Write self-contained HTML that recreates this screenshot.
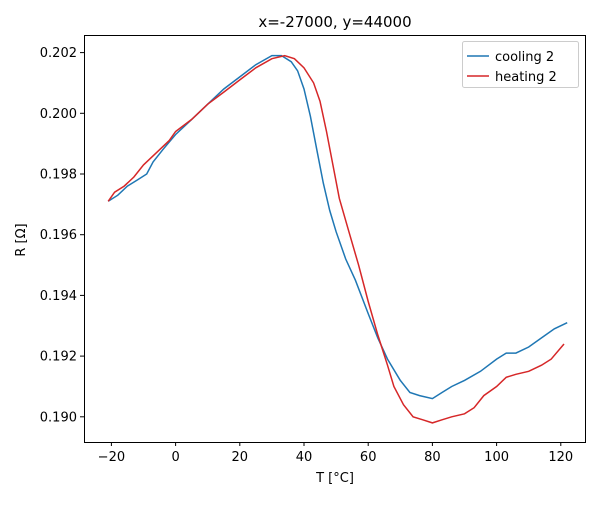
<!DOCTYPE html>
<html><head><meta charset="utf-8"><style>
body{margin:0;background:#fff}
svg text{font-family:"DejaVu Sans","Liberation Sans",sans-serif;fill:#000}
</style></head><body>
<svg id="s" width="600" height="500" xmlns="http://www.w3.org/2000/svg">
<rect x="84.5" y="35.5" width="501" height="407" fill="none" stroke="#000" stroke-width="1"/>
<g id="ticks" font-size="13"></g>
<text x="335" y="27" font-size="15" text-anchor="middle">x=-27000, y=44000</text>
<text x="335" y="482" font-size="13" text-anchor="middle">T [°C]</text>
<text transform="translate(25,240) rotate(-90)" font-size="13" text-anchor="middle">R [Ω]</text>
<path id="c" fill="none" stroke="#1f77b4" stroke-width="1.5"/>
<path id="h" fill="none" stroke="#d62728" stroke-width="1.5"/>
<rect x="462.5" y="41.5" width="116" height="46" rx="2" fill="#fff" fill-opacity="0.8" stroke="#ccc"/>
<line x1="467" y1="56" x2="489" y2="56" stroke="#1f77b4" stroke-width="1.5"/>
<line x1="467" y1="76" x2="489" y2="76" stroke="#d62728" stroke-width="1.5"/>
<text x="495" y="61" font-size="13">cooling 2</text>
<text x="495" y="81" font-size="13">heating 2</text>
</svg>
<script>
var X=function(t){return 175.6+t*3.21},Y=function(r){return 113.3+(0.2-r)/0.002*60.7};
var g=document.getElementById('ticks'),h='';
for(var t=-20;t<=120;t+=20){var x=X(t);h+='<line x1="'+x+'" y1="442" x2="'+x+'" y2="446" stroke="#000"/><text x="'+x+'" y="461" text-anchor="middle">'+(t<0?'−'+(-t):t)+'</text>';}
for(var i=0;i<=6;i++){var r=0.19+i*0.002,y=Y(r);h+='<line x1="80" y1="'+y+'" x2="84" y2="'+y+'" stroke="#000"/><text x="77" y="'+(y+4.5)+'" text-anchor="end">'+r.toFixed(3)+'</text>';}
g.innerHTML=h;
var C=[[-21,.1971],[-18,.1973],[-15,.1976],[-12,.1978],[-9,.1980],[-7,.1984],[-4,.1988],[0,.1993],[5,.1998],[10,.2003],[15,.2008],[20,.2012],[25,.2016],[30,.2019],[33,.2019],[36,.2017],[38,.2014],[40,.2008],[42,.1999],[44,.1988],[46,.1977],[48,.1968],[50,.1961],[53,.1952],[56,.1945],[60,.1934],[63,.1926],[66,.1919],[70,.1912],[73,.1908],[76,.1907],[80,.1906],[83,.1908],[86,.1910],[90,.1912],[95,.1915],[100,.1919],[103,.1921],[106,.1921],[110,.1923],[114,.1926],[118,.1929],[122,.1931]];
var H=[[-21,.1971],[-19,.1974],[-16,.1976],[-13,.1979],[-10,.1983],[-6,.1987],[-2,.1991],[0,.1994],[5,.1998],[10,.2003],[15,.2007],[20,.2011],[25,.2015],[30,.2018],[34,.2019],[37,.2018],[40,.2015],[43,.2010],[45,.2004],[47,.1994],[49,.1983],[51,.1972],[54,.1961],[57,.1950],[60,.1938],[63,.1927],[66,.1917],[68,.1910],[71,.1904],[74,.1900],[77,.1899],[80,.1898],[83,.1899],[86,.1900],[90,.1901],[93,.1903],[96,.1907],[100,.1910],[103,.1913],[106,.1914],[110,.1915],[114,.1917],[117,.1919],[121,.1924]];
function P(a){return a.map(function(p,i){return(i?'L':'M')+X(p[0]).toFixed(1)+' '+Y(p[1]).toFixed(1)}).join('')}
document.getElementById('c').setAttribute('d',P(C));
document.getElementById('h').setAttribute('d',P(H));
</script>
</body></html>
